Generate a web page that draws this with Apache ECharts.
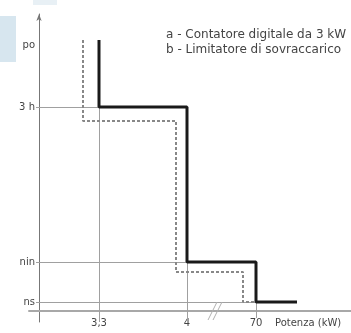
<!DOCTYPE html>
<html>
<head>
<meta charset="utf-8">
<script src="https://cdn.jsdelivr.net/npm/echarts@6/dist/echarts.min.js"></script>
<style>
  html, body { margin: 0; padding: 0; background: #fff; }
  #chart { width: 351px; height: 333px; }
</style>
</head>
<body>
<div id="chart"></div>
<script>
// schematic units (the axes are not to scale)
var xTicks = [6.0, 14.8, 21.7];
var xTickLabels = ["3,3", "4", "70"];
var yTicks = [0.9, 4.9, 20.4, 26.6];
var yTickLabels = ["ns", "nin", "3 h", "po"];

// a - Contatore digitale da 3 kW
var curveA = [[6.0, 27.1], [6.0, 20.4], [14.8, 20.4], [14.8, 4.9], [21.7, 4.9], [21.7, 0.9], [25.8, 0.9]];
// b - Limitatore di sovraccarico
var curveB = [[4.4, 27.1], [4.4, 19.0], [13.7, 19.0], [13.7, 3.9], [20.4, 3.9], [20.4, 0.9], [21.7, 0.9]];

// thin reference lines
var guides = [
  [[-0.3, 20.4], [6.0, 20.4]],
  [[-0.3, 4.9], [14.8, 4.9]],
  [[-0.3, 0.9], [21.7, 0.9]],
  [[6.0, 20.4], [6.0, -1.1]],
  [[14.8, 4.9], [14.8, -0.9]],
  [[21.7, 0.9], [21.7, -0.7]]
];
// axis break mark
var breakMark = [
  [[16.9, -0.9], [17.8, 0.9]],
  [[17.4, -0.9], [18.3, 0.9]]
];

function pickLabel(vals, labels) {
  return function (v) {
    for (var i = 0; i < vals.length; i++) {
      if (Math.abs(vals[i] - v) < 1e-6) return labels[i];
    }
    return "";
  };
}

var font = "DejaVu Sans";
var myChart = echarts.init(document.getElementById("chart"));
var option = {
  animation: false,
  grid: { left: 29, right: 0, top: 14, bottom: 11, containLabel: false, outerBoundsMode: "none" },
  xAxis: {
    type: "value",
    min: -1,
    max: 31.2,
    splitLine: { show: false },
    axisTick: { show: false },
    axisLine: { show: true, lineStyle: { color: "#a8a8a8", width: 2 } },
    axisLabel: {
      customValues: xTicks,
      formatter: pickLabel(xTicks, xTickLabels),
      color: "#444",
      fontFamily: font,
      fontSize: 10,
      margin: -4
    }
  },
  yAxis: {
    type: "value",
    min: -1.1,
    max: 29.7,
    splitLine: { show: false },
    axisTick: { show: false },
    axisLine: {
      show: true,
      symbol: ["none", "arrow"],
      symbolSize: [4, 7],
      lineStyle: { color: "#777", width: 1 }
    },
    axisLabel: {
      customValues: yTicks,
      formatter: pickLabel(yTicks, yTickLabels),
      color: "#444",
      fontFamily: font,
      fontSize: 10,
      margin: -6
    }
  },
  graphic: [
    { type: "rect", left: 0, top: 16, shape: { width: 16, height: 46 }, style: { fill: "#d7e6ef" }, z: 0 },
    { type: "rect", left: 33, top: 0, shape: { width: 24, height: 5 }, style: { fill: "#e8f0f5" }, z: 0 },
    { type: "text", left: 166, top: 29, style: { text: "a - Contatore digitale da 3 kW", fill: "#444", font: "12px " + font } },
    { type: "text", left: 166, top: 44, style: { text: "b - Limitatore di sovraccarico", fill: "#444", font: "12px " + font } },
    { type: "text", left: 275, top: 318, style: { text: "Potenza (kW)", fill: "#444", font: "10px " + font } }
  ],
  series: [
    {
      type: "lines",
      coordinateSystem: "cartesian2d",
      silent: true,
      z: 1,
      lineStyle: { color: "#a0a0a0", width: 1, opacity: 1 },
      data: guides.map(function (c) { return { coords: c }; })
    },
    {
      type: "lines",
      coordinateSystem: "cartesian2d",
      silent: true,
      z: 1,
      lineStyle: { color: "#b0b0b0", width: 1, opacity: 1 },
      data: breakMark.map(function (c) { return { coords: c }; })
    },
    {
      name: "b",
      type: "line",
      z: 3,
      symbol: "none",
      lineStyle: { color: "#888", width: 2, type: [3, 2] },
      data: curveB.map(function (p, i) {
        return i === 0
          ? { value: p, symbol: "none", label: { show: true, position: "top", distance: 4, formatter: "b", color: "#444", fontFamily: font, fontSize: 10 } }
          : p;
      })
    },
    {
      name: "a",
      type: "line",
      z: 4,
      symbol: "none",
      lineStyle: { color: "#1a1a1a", width: 3 },
      data: curveA.map(function (p, i) {
        return i === 0
          ? { value: p, symbol: "none", label: { show: true, position: "top", distance: 4, formatter: "a", color: "#444", fontFamily: font, fontSize: 10 } }
          : p;
      })
    }
  ]
};
myChart.setOption(option);
window.addEventListener("resize", function () {
  myChart.resize();
});
</script>
</body>
</html>
